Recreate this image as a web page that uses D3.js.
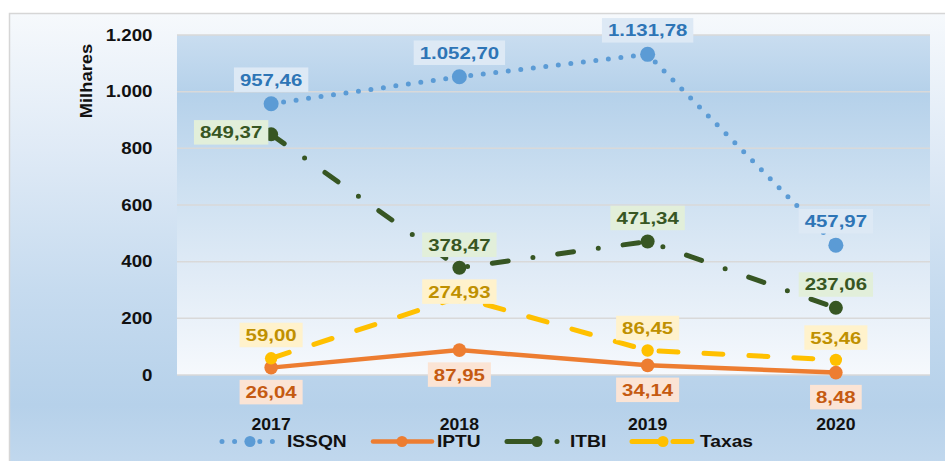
<!DOCTYPE html>
<html><head><meta charset="utf-8">
<script src="https://cdn.jsdelivr.net/npm/d3@7/dist/d3.min.js"></script>
<style>html,body{margin:0;padding:0;background:#fff;}svg{display:block;}text{font-family:"Liberation Sans",Arial,sans-serif;font-weight:bold;}</style>
</head><body>
<svg id="chart" width="945" height="461"></svg>
<script>
// ---- data ----
const years = ["2017", "2018", "2019", "2020"];
const seriesNames = ["ISSQN", "IPTU", "ITBI", "Taxas"];
const issqn = [957.46, 1052.70, 1131.78, 457.97];
const iptu = [26.04, 87.95, 34.14, 8.48];
const itbi = [849.37, 378.47, 471.34, 237.06];
const taxas = [59.00, 274.93, 86.45, 53.46];
const yTicks = [0, 200, 400, 600, 800, 1000, 1200];
const yTitle = "Milhares";

// ---- setup ----
const svg = d3.select("#chart");
const W = 945, H = 461;
const loc = d3.formatLocale({decimal: ",", thousands: ".", grouping: [3], currency: ["R$", ""]});
const fmtVal = loc.format(",.2f");
const fmtTick = loc.format(",d");

const defs = svg.append("defs");
const g1 = defs.append("linearGradient").attr("id", "outerBg").attr("x1", 0).attr("y1", 0).attr("x2", 0).attr("y2", 1);
[[0, "#f6f9fc"], [0.3, "#dfeaf6"], [0.6, "#c6dbef"], [0.85, "#b6d1ea"], [1, "#c3d9ee"]].forEach(([o, c]) => g1.append("stop").attr("offset", o).attr("stop-color", c));
const g2 = defs.append("linearGradient").attr("id", "plotBg").attr("x1", 0).attr("y1", 0).attr("x2", 0).attr("y2", 1);
[[0, "#c9ddf0"], [0.17, "#b5d1ea"], [0.45, "#cde0f1"], [0.7, "#e0ebf6"], [1, "#f6f9fd"]].forEach(([o, c]) => g2.append("stop").attr("offset", o).attr("stop-color", c));

svg.append("rect").attr("width", W).attr("height", H).attr("fill", "#ffffff");
svg.append("rect").attr("x", 9.5).attr("y", 13.5).attr("width", W).attr("height", H)
  .attr("fill", "url(#outerBg)").attr("stroke", "#d6d6d6").attr("stroke-width", 1.5);

const plot = {left: 177, right: 930, top: 35, bottom: 375};
const x = d3.scalePoint().domain(years).range([plot.left, plot.right]).padding(0.5);
const y = d3.scaleLinear().domain([0, 1200]).range([plot.bottom, plot.top]);

svg.append("rect").attr("x", plot.left).attr("y", plot.top)
  .attr("width", plot.right - plot.left).attr("height", plot.bottom - plot.top)
  .attr("fill", "url(#plotBg)");

// gridlines
svg.append("g").selectAll("line").data(yTicks).join("line")
  .attr("x1", plot.left).attr("x2", plot.right)
  .attr("y1", d => y(d)).attr("y2", d => y(d))
  .attr("stroke", "#d9d9d9").attr("stroke-width", 1.5);

function txt(parent, px, py, str, o) {
  const sx = o.sx || 1.15;
  return parent.append("text")
    .attr("transform", `translate(${px},${py}) rotate(${o.rot || 0}) scale(${sx},1)`)
    .attr("text-anchor", o.anchor || "middle")
    .attr("dy", "0.35em")
    .attr("font-size", o.size || 16)
    .attr("fill", o.fill || "#111")
    .text(str);
}

// y axis labels
const ya = svg.append("g");
yTicks.forEach(t => txt(ya, 152.5, y(t), fmtTick(t), {anchor: "end", size: 16, sx: 1.17}));
txt(svg, 86, 81, yTitle, {rot: -90, size: 16, sx: 1.15});

// x axis labels
const xa = svg.append("g");
years.forEach(yr => txt(xa, x(yr), 424, yr, {size: 16, sx: 1.1}));

// series styles
const styles = {
  ISSQN: {color: "#5b9bd5", width: 5, dash: "0 12.6", r: 7.5, lab: "#2e75b6", box: "#dde9f5"},
  IPTU: {color: "#ed7d31", width: 4.5, dash: null, r: 6.8, lab: "#c55a11", box: "#fbe4d5"},
  ITBI: {color: "#375623", width: 5, dash: "16 25 0 25", r: 7, lab: "#375623", box: "#e2efda"},
  Taxas: {color: "#ffc000", width: 5, dash: "19 26", r: 6.2, lab: "#bf9000", box: "#fff2cc"}
};
const seriesData = {ISSQN: issqn, IPTU: iptu, ITBI: itbi, Taxas: taxas};

const line = d3.line().x(d => x(d.year)).y(d => y(d.v));
const linesG = svg.append("g");
seriesNames.forEach(name => {
  const st = styles[name];
  const pts = years.map((yr, i) => ({year: yr, v: seriesData[name][i]}));
  linesG.append("path").datum(pts).attr("d", line)
    .attr("fill", "none").attr("stroke", st.color).attr("stroke-width", st.width)
    .attr("stroke-linecap", "round").attr("stroke-linejoin", "round")
    .attr("stroke-dasharray", st.dash);
  linesG.append("g").selectAll("circle").data(pts).join("circle")
    .attr("cx", d => x(d.year)).attr("cy", d => y(d.v)).attr("r", st.r).attr("fill", st.color);
});

// data labels
// placement: default above (ISSQN, ITBI, Taxas), below (IPTU); a few adjusted
const place = {
  ISSQN: [[0, -24], [0, -24], [0, -24], [0, -24]],
  IPTU: [[0, 24.5], [0, 24.5], [0, 24.5], [0, 24.5]],
  ITBI: [[-40, -2], [0, -23], [0, -23.5], [0, -23.3]],
  Taxas: [[0, -23.3], [0, -5.5], [0, -22.5], [0, -22.3]]
};
const labG = svg.append("g");
seriesNames.forEach(name => {
  const st = styles[name];
  seriesData[name].forEach((v, i) => {
    const [dx, dy] = place[name][i];
    const cx = x(years[i]) + dx, cy = y(v) + dy;
    const g = labG.append("g");
    const rect = g.append("rect").attr("fill", st.box);
    const t = txt(g, cx, cy, fmtVal(v), {size: 17, sx: 1.2, fill: st.lab});
    const w = t.node().getComputedTextLength() * 1.2 + 12;
    const h = 24.5;
    rect.attr("x", cx - w / 2).attr("y", cy - h / 2).attr("width", w).attr("height", h);
  });
});

// legend
const legY = 441.5;
const legend = [
  {name: "ISSQN", x1: 222, x2: 278, mx: 250, tx: 287},
  {name: "IPTU", x1: 373, x2: 432, mx: 402, tx: 437},
  {name: "ITBI", x1: 507, x2: 557, mx: 537, tx: 570},
  {name: "Taxas", x1: 632, x2: 693, mx: 663, tx: 700}
];
const lg = svg.append("g");
legend.forEach(L => {
  const st = styles[L.name];
  let dash = st.dash;
  if (L.name === "ITBI") dash = "24 100";
  lg.append("line").attr("x1", L.x1).attr("x2", L.x2).attr("y1", legY).attr("y2", legY)
    .attr("stroke", st.color).attr("stroke-width", st.width).attr("stroke-linecap", "round")
    .attr("stroke-dasharray", L.name === "Taxas" ? "26 15 19 100" : dash);
  if (L.name === "ITBI") lg.append("circle").attr("cx", L.x2).attr("cy", legY).attr("r", 2.5).attr("fill", st.color);
  lg.append("circle").attr("cx", L.mx).attr("cy", legY).attr("r", 5.5).attr("fill", st.color);
  txt(lg, L.tx, legY, L.name, {anchor: "start", size: 16, sx: 1.2});
});
</script>
</body></html>
